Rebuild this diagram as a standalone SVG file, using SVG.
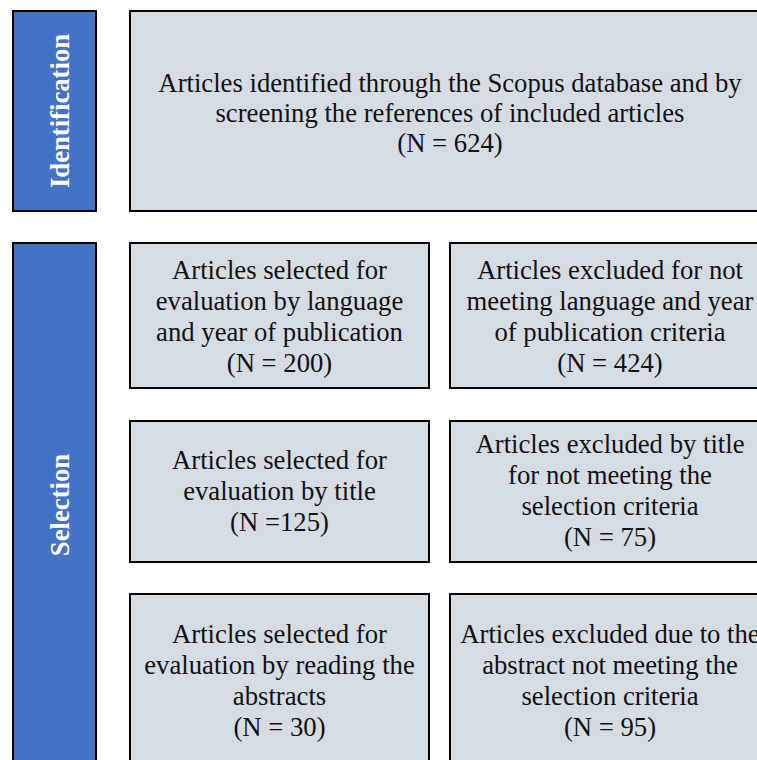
<svg xmlns="http://www.w3.org/2000/svg" width="757" height="760" viewBox="0 0 757 760">
<style>
.stage{fill:#4472C4;stroke:#000;stroke-width:2}
.box{fill:#D6DCE4;stroke:#000;stroke-width:2}
.t{font-family:"Liberation Serif","Times New Roman",serif;font-size:26.7px;fill:#111;text-anchor:middle}
.s{font-family:"Liberation Serif","Times New Roman",serif;font-size:26.7px;font-weight:bold;fill:#fff;text-anchor:middle}
</style>
<rect width="757" height="760" fill="#fff"/>
<g id="stage-identification">
<rect class="stage" x="13" y="11" width="83" height="200"/>
<text class="s" transform="translate(69,111) rotate(-90)">Identification</text>
</g>
<g id="stage-selection">
<rect class="stage" x="13" y="243" width="83" height="530"/>
<text class="s" transform="translate(69,505) rotate(-90)">Selection</text>
</g>
<g id="identified">
<rect class="box" x="130" y="11" width="645" height="200"/>
<text class="t"><tspan x="450" y="92">Articles identified through the Scopus database and by</tspan><tspan x="450" y="122">screening the references of included articles</tspan><tspan x="450" y="152">(N = 624)</tspan></text>
</g>
<g id="selected-language">
<rect class="box" x="130" y="243" width="299" height="145"/>
<text class="t"><tspan x="279.5" y="279">Articles selected for</tspan><tspan x="279.5" y="310">evaluation by language</tspan><tspan x="279.5" y="341">and year of publication</tspan><tspan x="279.5" y="372">(N = 200)</tspan></text>
</g>
<g id="excluded-language">
<rect class="box" x="450" y="243" width="325" height="145"/>
<text class="t"><tspan x="610" y="279">Articles excluded for not</tspan><tspan x="610" y="310">meeting language and year</tspan><tspan x="610" y="341">of publication criteria</tspan><tspan x="610" y="372">(N = 424)</tspan></text>
</g>
<g id="selected-title">
<rect class="box" x="130" y="421" width="299" height="141"/>
<text class="t"><tspan x="279.5" y="469">Articles selected for</tspan><tspan x="279.5" y="500">evaluation by title</tspan><tspan x="279.5" y="531">(N =125)</tspan></text>
</g>
<g id="excluded-title">
<rect class="box" x="450" y="421" width="325" height="141"/>
<text class="t"><tspan x="610" y="453">Articles excluded by title</tspan><tspan x="610" y="484">for not meeting the</tspan><tspan x="610" y="515">selection criteria</tspan><tspan x="610" y="546">(N = 75)</tspan></text>
</g>
<g id="selected-abstract">
<rect class="box" x="130" y="594" width="299" height="180"/>
<text class="t"><tspan x="279.5" y="643">Articles selected for</tspan><tspan x="279.5" y="674">evaluation by reading the</tspan><tspan x="279.5" y="705">abstracts</tspan><tspan x="279.5" y="736">(N = 30)</tspan></text>
</g>
<g id="excluded-abstract">
<rect class="box" x="450" y="594" width="325" height="180"/>
<text class="t"><tspan x="610" y="643">Articles excluded due to the</tspan><tspan x="610" y="674">abstract not meeting the</tspan><tspan x="610" y="705">selection criteria</tspan><tspan x="610" y="736">(N = 95)</tspan></text>
</g>
<g id="connectors"></g>
</svg>
